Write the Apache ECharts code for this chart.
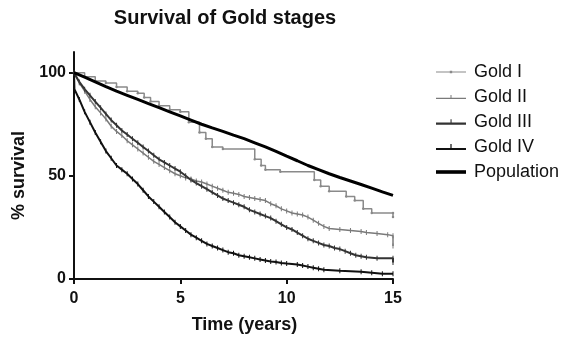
<!DOCTYPE html>
<html>
<head>
<meta charset="utf-8">
<script src="https://cdn.jsdelivr.net/npm/echarts@6/dist/echarts.min.js"></script>
<style>
html,body{margin:0;padding:0;background:#fff;}
#c{width:566px;height:339px;}
</style>
</head>
<body>
<div id="c"></div>
<script>
// ---- data ----
var seriesNames = ['Gold I', 'Gold II', 'Gold III', 'Gold IV', 'Population'];
var xTicks = [0, 5, 10, 15];
var yTicks = [0, 50, 100];

var goldI = [[0,100],[0.5,98],[1,96],[1.5,95],[2,93],[2.5,91],[3,90],[3.3,88],[3.6,86],[4,84],[4.5,82],[5,81],[5.4,76],[5.9,71],[6.2,68],[6.5,64],[7,63],[8.5,58],[8.8,55],[9,53],[9.7,52],[11.3,48],[11.6,45],[12,42.5],[12.8,40],[13.2,38],[13.6,34],[14,32],[15,32],[15,30]];
var goldII = [[0,100],[0.25,95],[0.5,91],[0.75,87],[1,83.5],[1.25,80.5],[1.5,77.5],[1.75,74],[2,71.5],[2.25,69.5],[2.5,67],[2.75,65],[3,63],[3.25,61],[3.5,59],[3.75,57],[4,55.5],[4.25,54],[4.5,52.5],[4.75,51],[5,50],[5.25,49],[5.5,48.5],[5.75,47.5],[6,47],[6.25,46],[6.5,45],[6.75,44],[7,43],[7.25,42],[7.5,41.5],[7.75,41],[8,40],[8.25,39.5],[8.5,39],[8.75,38.5],[9,38],[9.25,36.5],[9.5,35.5],[9.75,34],[10,33],[10.25,32],[10.5,31.5],[10.75,31],[11,30],[11.25,28.5],[11.5,27],[11.75,25.5],[12,24.5],[12.5,24],[13,23.5],[13.5,23],[13.75,22.5],[14.25,22],[14.75,21.5],[15,21],[15,16]];
var goldIII = [[0,100],[0.25,95.5],[0.5,92],[0.75,89],[1,86],[1.25,83],[1.5,80],[1.75,77],[2,74.5],[2.25,72],[2.5,70],[2.75,68],[3,66],[3.25,64],[3.5,62],[3.75,60],[4,58],[4.25,56.5],[4.5,55],[4.75,53.5],[5,52],[5.25,50],[5.5,48],[5.75,46.5],[6,45],[6.25,43.5],[6.5,42],[6.75,40.5],[7,39],[7.25,38],[7.5,37],[7.75,36],[8,35],[8.25,33.5],[8.5,32.5],[8.75,31.5],[9,30.5],[9.25,29.5],[9.5,28],[9.75,26.5],[10,25],[10.25,24],[10.5,22.5],[10.75,21],[11,19.5],[11.25,18.5],[11.5,17.5],[11.75,16.5],[12,16],[12.25,15],[12.5,14.5],[12.75,13.5],[13,12.5],[13.25,11.5],[13.5,11],[13.75,10.5],[14.25,10],[15,10],[15,8]];
var goldIV = [[0,100],[0.02,92],[0.25,87],[0.5,81],[0.75,76],[1,71],[1.25,66.5],[1.5,62],[1.75,58.5],[2,55],[2.25,53],[2.5,51],[2.75,48.5],[3,46],[3.25,43],[3.5,40],[3.75,37.5],[4,35],[4.25,32.5],[4.5,30],[4.75,27.5],[5,25.5],[5.25,23.5],[5.5,21.5],[5.75,20],[6,18.5],[6.25,17],[6.5,16],[6.75,15],[7,14],[7.25,13],[7.5,12.5],[7.75,11.5],[8,11],[8.25,10.5],[8.5,10],[8.75,9.5],[9,9],[9.25,8.5],[9.5,8.2],[9.75,7.8],[10,7.5],[10.5,7],[10.75,6.5],[11,6],[11.25,5.5],[11.5,5],[11.75,4.5],[12.5,4],[13.5,3.5],[14,3],[14.5,2.5],[15,2.5]];
var population = [[0,100],[0.5,97.8],[1,95.5],[1.5,93.2],[2,91],[2.5,89],[3,87],[3.5,85],[4,83],[4.5,81],[5,79],[5.5,77],[6,75],[6.5,73.2],[7,71.5],[7.5,69.7],[8,68],[8.5,66],[9,64],[9.5,61.8],[10,59.5],[10.5,57.3],[11,55],[11.5,53],[12,51],[12.5,49.2],[13,47.5],[13.5,45.8],[14,44],[14.5,42.2],[15,40.5]];

// ---- chart ----
var FONT = 'Liberation Sans, Arial, sans-serif';
var TICK = 'path://M0,0L1,0L1,10L0,10Z';
var ICONS = {
  'Gold I': 'path://M0,2L30,2L30,3.1L0,3.1Z M13.8,1.2L16.2,1.2L16.2,3.9L13.8,3.9Z',
  'Gold II': 'path://M0,3.4L30,3.4L30,4.6L0,4.6Z M14.5,0.5L15.5,0.5L15.5,4.6L14.5,4.6Z',
  'Gold III': 'path://M0,3.2L30,3.2L30,5.6L0,5.6Z M14.5,0L15.6,0L15.6,5.6L14.5,5.6Z',
  'Gold IV': 'path://M0,4L30,4L30,6.2L0,6.2Z M14.4,0L15.6,0L15.6,6.2L14.4,6.2Z',
  'Population': 'path://M0,0L30,0L30,3.6L0,3.6Z'
};
var chart = echarts.init(document.getElementById('c'), null, {renderer: 'canvas'});

function km(name, data, color, width, symbol, symSize, step) {
  return {
    name: name, type: 'line', step: step, data: data,
    showSymbol: true, symbol: symbol, symbolSize: symSize,
    itemStyle: {color: color},
    lineStyle: {color: color, width: width},
    animation: false, z: 3
  };
}

var option = {
  backgroundColor: '#fff',
  animation: false,
  title: {
    text: 'Survival of Gold stages',
    left: 220, top: 3, textAlign: 'center',
    textStyle: {fontFamily: FONT, fontSize: 20, fontWeight: 'bold', color: '#111'}
  },
  legend: {
    orient: 'vertical', left: 431, top: 58,
    itemGap: 7, itemWidth: 30, itemHeight: 10,
    data: seriesNames.map(function (n) { return {name: n, icon: ICONS[n]}; }),
    textStyle: {fontFamily: FONT, fontSize: 18, color: '#111', padding: [0,0,0,3]}
  },
  grid: {left: 74, right: 173, top: 52, bottom: 59, containLabel: false},
  xAxis: {
    type: 'value', min: 0, max: 15, interval: 5,
    name: 'Time (years)', nameLocation: 'middle', nameGap: 37,
    nameTextStyle: {fontFamily: FONT, fontSize: 18, fontWeight: 'bold', color: '#111', padding: [0,0,0,22]},
    axisLine: {show: true, lineStyle: {color: '#111', width: 2}},
    axisTick: {show: true, length: 5, lineStyle: {color: '#111', width: 2}, customValues: xTicks},
    axisLabel: {fontFamily: FONT, fontSize: 16, fontWeight: 'bold', color: '#111', margin: 12, customValues: xTicks},
    splitLine: {show: false}
  },
  yAxis: {
    type: 'value', min: 0, max: 110,
    name: '% survival', nameLocation: 'middle', nameGap: 45, nameRotate: 90,
    nameTextStyle: {fontFamily: FONT, fontSize: 18, fontWeight: 'bold', color: '#111', padding: [0,20,0,0]},
    axisLine: {show: true, lineStyle: {color: '#111', width: 2}},
    axisTick: {show: true, length: 5, lineStyle: {color: '#111', width: 2}, customValues: yTicks},
    axisLabel: {fontFamily: FONT, fontSize: 16, fontWeight: 'bold', color: '#111', margin: 8, customValues: yTicks},
    splitLine: {show: false}
  },
  series: [
    km('Gold I', goldI, '#8a8a8a', 1.5, 'circle', 2.5, 'end'),
    km('Gold II', goldII, '#7a7a7a', 1.5, TICK, [1, 5], false),
    km('Gold III', goldIII, '#333333', 2, TICK, [1, 5], false),
    km('Gold IV', goldIV, '#111111', 2, TICK, [1, 5], false),
    {
      name: 'Population', type: 'line', data: population, smooth: false,
      showSymbol: false, symbol: 'none',
      itemStyle: {color: '#000'}, lineStyle: {color: '#000', width: 3}, z: 4
    }
  ]
};
chart.setOption(option);
</script>
</body>
</html>
